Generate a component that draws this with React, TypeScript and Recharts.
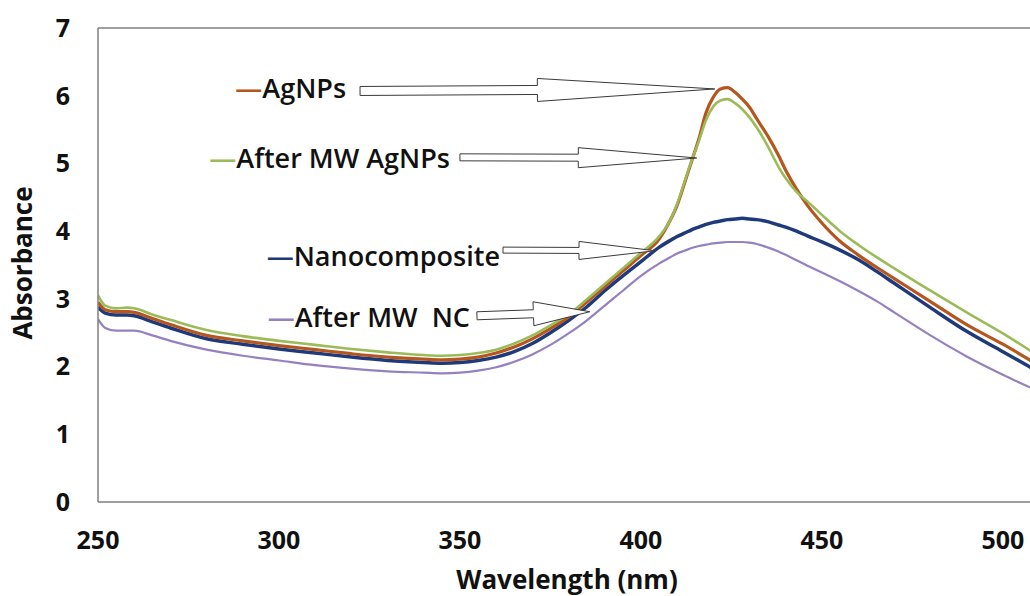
import React from "react";
import { LineChart, Line, XAxis, YAxis, ReferenceLine, Label } from "recharts";

// UV-Vis spectra, wavelength in nm
const wavelengths = [
  250, 252, 255, 258, 260, 265, 270, 280, 290, 300, 310, 320, 330, 340, 345, 350, 355, 360, 365, 370,
  375, 380, 385, 390, 395, 400, 405, 408, 410, 412, 414, 416, 418, 420, 422, 424, 426, 428, 430, 432,
  435, 438, 440, 443, 446, 450, 455, 460, 465, 470, 480, 490, 500, 508,
];

const agnps = [
  2.95, 2.84, 2.81, 2.81, 2.8, 2.71, 2.62, 2.46, 2.38, 2.31, 2.25, 2.19, 2.14, 2.11, 2.1, 2.11, 2.14, 2.2, 2.29, 2.41,
  2.56, 2.73, 2.95, 3.18, 3.41, 3.64, 3.88, 4.15, 4.38, 4.7, 5.03, 5.36, 5.75, 5.98, 6.1, 6.12, 6.05, 5.95, 5.83, 5.66,
  5.41, 5.12, 4.9, 4.62, 4.38, 4.12, 3.85, 3.65, 3.47, 3.3, 2.96, 2.62, 2.33, 2.08,
];

const afterMwAgnps = [
  3.05, 2.9, 2.86, 2.87, 2.86, 2.77, 2.69, 2.54, 2.45, 2.38, 2.32, 2.26, 2.21, 2.17, 2.16, 2.17, 2.2, 2.25, 2.34, 2.46,
  2.61, 2.77, 2.99, 3.22, 3.45, 3.68, 3.92, 4.15, 4.4, 4.72, 5.04, 5.33, 5.64, 5.84, 5.93, 5.95, 5.89, 5.8, 5.68, 5.53,
  5.26, 4.95, 4.78, 4.58, 4.44, 4.24, 4.0, 3.8, 3.62, 3.45, 3.12, 2.8, 2.49, 2.22,
];

const nanocomposite = [
  2.88, 2.79, 2.76, 2.76, 2.75, 2.66, 2.57, 2.41, 2.33, 2.26, 2.2, 2.14, 2.09, 2.06, 2.05, 2.06, 2.09, 2.14, 2.22, 2.34,
  2.5, 2.68, 2.88, 3.12, 3.34, 3.55, 3.76, 3.86, 3.92, 3.97, 4.02, 4.06, 4.1, 4.13, 4.15, 4.17, 4.18, 4.19, 4.18, 4.17,
  4.14, 4.09, 4.06, 4.0, 3.93, 3.84, 3.72, 3.58, 3.41, 3.23, 2.87, 2.52, 2.22, 1.98,
];

const afterMwNc = [
  2.7, 2.57, 2.53, 2.53, 2.53, 2.46, 2.38, 2.25, 2.16, 2.09, 2.02, 1.97, 1.93, 1.91, 1.9, 1.91, 1.94, 1.99, 2.07, 2.18,
  2.32, 2.49, 2.68, 2.9, 3.12, 3.34, 3.52, 3.61, 3.67, 3.71, 3.75, 3.78, 3.8, 3.82, 3.83, 3.84, 3.84, 3.84, 3.83, 3.81,
  3.76, 3.7, 3.65, 3.57, 3.49, 3.39, 3.26, 3.12, 2.97, 2.8, 2.46, 2.15, 1.88, 1.68,
];

const xTicks = [250, 300, 350, 400, 450, 500];
const yTicks = [0, 1, 2, 3, 4, 5, 6, 7];

const data = wavelengths.map((w, i) => ({
  w,
  agnps: agnps[i],
  afterMwAgnps: afterMwAgnps[i],
  nanocomposite: nanocomposite[i],
  afterMwNc: afterMwNc[i],
}));

const COLORS = {
  agnps: "#B5561E",
  afterMwAgnps: "#9BBB59",
  nanocomposite: "#1F3A7A",
  afterMwNc: "#9580C0",
};

const FONT = "'Open Sans', 'DejaVu Sans', sans-serif";
const AXIS = "#7f7f7f";

// hollow arrows pointing from the label to the curve (data coords)
const callouts = [
  { label: "AgNPs", color: COLORS.agnps, from: [322.4, 6.07], to: [420.4, 6.1], gap: 14, dy: -4, shaft: 4.5, head: 11.5 },
  { label: "After MW AgNPs", color: COLORS.afterMwAgnps, from: [350, 5.09], to: [415.4, 5.08], gap: 10, dy: 0, shaft: 3.5, head: 10 },
  { label: "Nanocomposite", color: COLORS.nanocomposite, from: [361.9, 3.72], to: [403.9, 3.71], gap: 3, dy: 5, shaft: 3, head: 9 },
  { label: "After MW  NC", color: COLORS.afterMwNc, from: [354.7, 2.75], to: [385.9, 2.81], gap: 7, dy: 0, shaft: 4, head: 12 },
];

type Callout = (typeof callouts)[number];

function renderCallout(c: Callout) {
  return (props: any) => {
    const x1 = Number(props.x1);
    const y1 = Number(props.y1);
    const x2 = Number(props.x2);
    const y2 = Number(props.y2);
    const dx = x2 - x1;
    const dy = y2 - y1;
    const len = Math.hypot(dx, dy) || 1;
    const nx = -dy / len;
    const ny = dx / len;
    const mx = x1 + dx * 0.5;
    const my = y1 + dy * 0.5;
    const pts = [
      [x1 + nx * c.shaft, y1 + ny * c.shaft],
      [mx + nx * c.shaft, my + ny * c.shaft],
      [mx + nx * c.head, my + ny * c.head],
      [x2, y2],
      [mx - nx * c.head, my - ny * c.head],
      [mx - nx * c.shaft, my - ny * c.shaft],
      [x1 - nx * c.shaft, y1 - ny * c.shaft],
    ]
      .map((p) => p.join(","))
      .join(" ");
    return (
      <g>
        <polygon points={pts} fill="#fff" stroke="#3a3a3a" strokeWidth={1} />
        <text
          x={x1 - c.gap}
          y={y1 + c.dy}
          textAnchor="end"
          dominantBaseline="central"
          fontFamily={FONT}
          fontSize={27}
          fontWeight={600}
          fill="#111"
          style={{ whiteSpace: "pre" }}
        >
          <tspan fill={c.color}>—</tspan>
          <tspan>{c.label}</tspan>
        </text>
      </g>
    );
  };
}

export default function App() {
  return (
    <div style={{ position: "absolute", left: 0, top: 0, width: 1030, height: 596, background: "#fff", overflow: "hidden" }}>
      <LineChart width={1030} height={596} data={data} margin={{ top: 28, right: 0, left: 0, bottom: 0 }}>
        <XAxis
          dataKey="w"
          type="number"
          domain={[250, 507.5]}
          ticks={xTicks}
          allowDataOverflow
          height={94}
          tickLine={false}
          tickSize={0}
          tickMargin={29}
          stroke={AXIS}
          strokeWidth={1.5}
          tick={{ fill: "#111", fontSize: 25, fontWeight: 700, fontFamily: FONT }}
        >
          <Label
            content={({ viewBox }: any) => (
              <text
                x={567}
                y={viewBox.y + 87}
                textAnchor="middle"
                fontFamily={FONT}
                fontSize={26}
                fontWeight={700}
                fill="#111"
              >
                Wavelength (nm)
              </text>
            )}
          />
        </XAxis>
        <YAxis
          type="number"
          domain={[0, 7]}
          ticks={yTicks}
          width={98}
          tickLine={false}
          tickSize={0}
          tickMargin={28}
          stroke={AXIS}
          strokeWidth={1.5}
          tick={{ fill: "#111", fontSize: 25, fontWeight: 700, fontFamily: FONT }}
        >
          <Label
            content={({ viewBox }: any) => {
              const cx = viewBox.x + 22;
              const cy = viewBox.y + viewBox.height / 2 - 2;
              return (
                <text
                  x={cx}
                  y={cy}
                  transform={`rotate(-90 ${cx} ${cy})`}
                  textAnchor="middle"
                  dominantBaseline="central"
                  fontFamily={FONT}
                  fontSize={26}
                  fontWeight={700}
                  fill="#111"
                >
                  Absorbance
                </text>
              );
            }}
          />
        </YAxis>
        <ReferenceLine y={7} stroke={AXIS} strokeWidth={1.5} />
        <Line type="monotone" dataKey="afterMwNc" stroke={COLORS.afterMwNc} strokeWidth={2.2} dot={false} isAnimationActive={false} />
        <Line type="monotone" dataKey="nanocomposite" stroke={COLORS.nanocomposite} strokeWidth={3.5} dot={false} isAnimationActive={false} />
        <Line type="monotone" dataKey="agnps" stroke={COLORS.agnps} strokeWidth={3.2} dot={false} isAnimationActive={false} />
        <Line type="monotone" dataKey="afterMwAgnps" stroke={COLORS.afterMwAgnps} strokeWidth={2.6} dot={false} isAnimationActive={false} />
        {callouts.map((c) => (
          <ReferenceLine
            key={c.label}
            segment={[
              { x: c.from[0], y: c.from[1] },
              { x: c.to[0], y: c.to[1] },
            ]}
            shape={renderCallout(c)}
          />
        ))}
      </LineChart>
    </div>
  );
}
